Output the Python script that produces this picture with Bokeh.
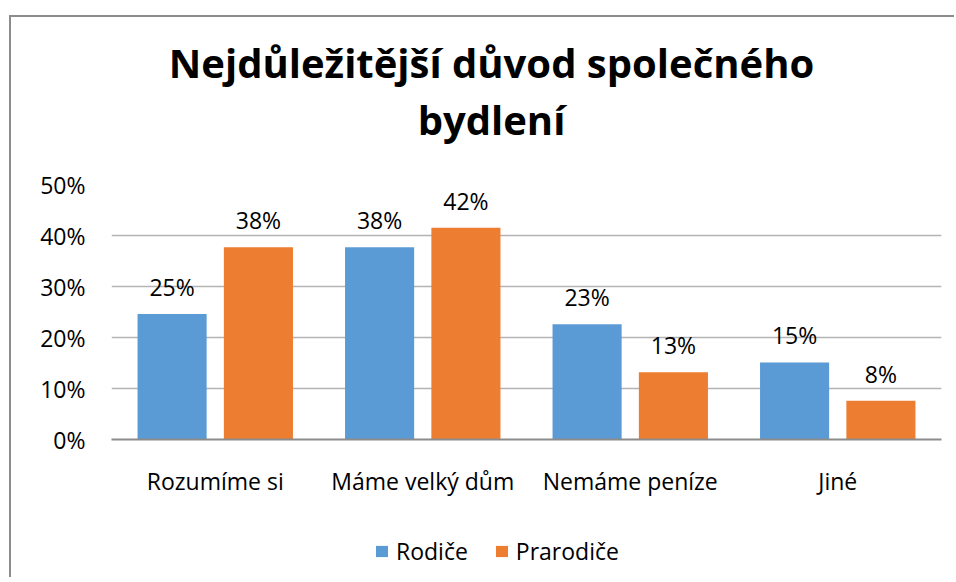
from bokeh.plotting import figure
from bokeh.layouts import column, row
from bokeh.models import (ColumnDataSource, FactorRange, Range1d, FixedTicker, Spacer,
                          PrintfTickFormatter, LabelSet, Legend, LegendItem, Title)
from bokeh.core.properties import value
from bokeh.transform import dodge
from bokeh.embed import file_html
from bokeh.resources import INLINE

# ---- data ----
categories = ["Rozumíme si", "Máme velký dům", "Nemáme peníze", "Jiné"]
series_names = ["Rodiče", "Prarodiče"]
rodice = [24.6, 37.7, 22.6, 15.1]
prarodice = [37.7, 41.5, 13.2, 7.6]
y_ticks = [0, 10, 20, 30, 40, 50]
title_lines = ["Nejdůležitější důvod společného", "bydlení"]

BLUE = "#5B9BD5"
ORANGE = "#ED7D31"
FONT = "Open Sans"
TXT = "#000000"
FS = "23px"
BORDER = "2px solid #8c8c8c"
W = 945

src = ColumnDataSource(dict(
    cat=categories,
    rodice=rodice,
    prarodice=prarodice,
    rodice_lbl=[f"{int(v + 0.5)}%" for v in rodice],
    prarodice_lbl=[f"{int(v + 0.5)}%" for v in prarodice],
))


def bare(fig):
    fig.grid.visible = False
    fig.outline_line_color = None


# ---- title block ----
tfig = figure(width=W, height=150, x_range=Range1d(0, 1), y_range=Range1d(0, 1),
              x_axis_location=None, y_axis_location=None,
              output_backend="svg", toolbar_location=None,
              min_border_left=20, min_border_right=5, min_border_top=129, min_border_bottom=0)
tfig.frame_align = False
bare(tfig)
tfig.styles = {"border-left": BORDER, "border-top": BORDER}
for t in reversed(title_lines):
    tfig.add_layout(Title(text=t, text_font=FONT, text_font_size="40px",
                          text_font_style="bold", text_color=TXT, align="center",
                          standoff=0), "above")

# ---- main chart ----
p = figure(width=W, height=340,
           x_range=FactorRange(*categories), y_range=Range1d(0, 50),
           output_backend="svg", toolbar_location=None,
           min_border_left=100, min_border_right=15,
           min_border_top=19, min_border_bottom=66)
p.frame_align = False
p.styles = {"border-left": BORDER}

off = 0.208
bw = 0.333
r1 = p.vbar(x=dodge("cat", -off, range=p.x_range), top="rodice", width=bw,
            source=src, fill_color=BLUE, line_color=None)
r2 = p.vbar(x=dodge("cat", off, range=p.x_range), top="prarodice", width=bw,
            source=src, fill_color=ORANGE, line_color=None)

for xo, col, lbl in [(-off, "rodice", "rodice_lbl"), (off, "prarodice", "prarodice_lbl")]:
    p.add_layout(LabelSet(x=dodge("cat", xo, range=p.x_range), y=col, text=lbl,
                          source=src, text_align="center", text_baseline="alphabetic",
                          y_offset=18, text_font=value(FONT), text_font_size=value(FS),
                          text_color=TXT))

p.yaxis.ticker = FixedTicker(ticks=y_ticks)
p.yaxis.formatter = PrintfTickFormatter(format="%d%%")
p.yaxis.axis_line_color = None
p.yaxis.major_tick_line_color = None
p.yaxis.minor_tick_line_color = None
p.yaxis.major_tick_out = 0
p.yaxis.major_label_standoff = 26
p.yaxis.major_label_text_font = FONT
p.yaxis.major_label_text_font_size = FS
p.yaxis.major_label_text_color = TXT

p.xaxis.axis_line_color = "#8c8c8c"
p.xaxis.axis_line_width = 2
p.xaxis.major_tick_line_color = None
p.xaxis.minor_tick_line_color = None
p.xaxis.major_tick_out = 0
p.xaxis.major_label_standoff = 25
p.xaxis.major_label_text_font = FONT
p.xaxis.major_label_text_font_size = FS
p.xaxis.major_label_text_color = TXT

p.xgrid.grid_line_color = None
p.ygrid.grid_line_color = "#b4b4b4"
p.ygrid.grid_line_width = 1.5
p.outline_line_color = None

# ---- legend block (hidden key renderers share the bar data) ----
lfig = figure(width=W, height=72, x_range=FactorRange(*categories), y_range=Range1d(0, 50),
              x_axis_location=None, y_axis_location=None,
              output_backend="svg", toolbar_location=None,
              min_border_left=0, min_border_right=0, min_border_top=0, min_border_bottom=0)
lfig.frame_align = False
bare(lfig)
lfig.styles = {"border-left": BORDER}
k1 = lfig.vbar(x="cat", top="rodice", width=bw, source=src,
               fill_color=BLUE, line_color=None, visible=False)
k2 = lfig.vbar(x="cat", top="prarodice", width=bw, source=src,
               fill_color=ORANGE, line_color=None, visible=False)
legend = Legend(items=[LegendItem(label=series_names[0], renderers=[k1]),
                       LegendItem(label=series_names[1], renderers=[k2])],
                orientation="horizontal", location=(363, 10),
                label_text_font=FONT, label_text_font_size=FS,
                label_text_color=TXT, glyph_width=15, glyph_height=14,
                label_standoff=7, spacing=26, margin=0, padding=0,
                border_line_color=None, background_fill_alpha=0)
lfig.add_layout(legend)

layout = row(Spacer(width=9, height=10), column(Spacer(height=15, width=10), tfig, p, lfig))

open("out.html", "w").write(file_html(layout, INLINE))
